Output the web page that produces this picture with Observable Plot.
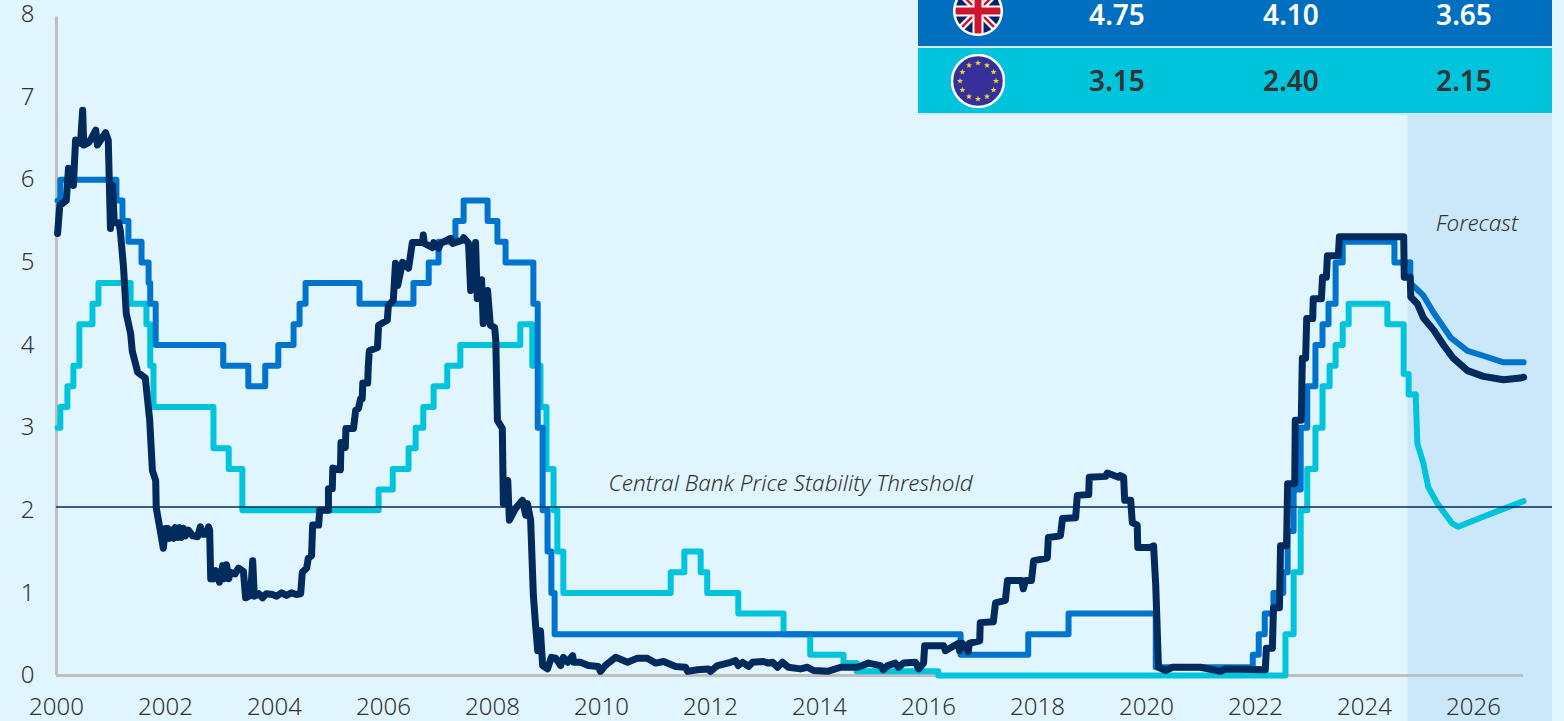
<!DOCTYPE html>
<html>
<head>
<meta charset="utf-8">
<script src="https://cdn.jsdelivr.net/npm/d3@7"></script>
<script src="https://cdn.jsdelivr.net/npm/@observablehq/plot@0.6"></script>
<style>
html,body{margin:0;padding:0;background:#E1F5FE;overflow:hidden}
#wrap{position:relative;width:1564px;height:721px;overflow:hidden;font-family:"Noto Sans",sans-serif}
.row{position:absolute;left:918px;width:634px}
.cell{position:absolute;top:0;width:120px;margin-left:-60px;text-align:center;font-size:28px;font-weight:600;line-height:1}
.flag{position:absolute}
</style>
</head>
<body>
<div id="wrap"></div>
<script>
// Step histories: [year the rate took effect, rate %]
const ukSteps = [[2000.02,5.75],[2000.07,6],[2001.10,5.75],[2001.21,5.5],[2001.32,5.25],[2001.56,5],[2001.69,4.75],[2001.72,4.5],[2001.82,4],[2003.06,3.75],[2003.52,3.5],[2003.83,3.75],[2004.07,4],[2004.35,4.25],[2004.46,4.5],[2004.57,4.75],[2005.56,4.5],[2006.55,4.75],[2006.83,5],[2007.01,5.25],[2007.32,5.5],[2007.47,5.75],[2007.91,5.5],[2008.09,5.25],[2008.24,5],[2008.75,4.5],[2008.83,3],[2008.92,2],[2009.01,1.5],[2009.08,1],[2009.14,0.5],[2016.59,0.25],[2017.83,0.5],[2018.57,0.75],[2020.17,0.1],[2021.95,0.25],[2022.06,0.5],[2022.17,0.75],[2022.33,1],[2022.51,1.25],[2022.59,1.75],[2022.70,2.25],[2022.83,3],[2022.95,3.5],[2023.10,4],[2023.23,4.25],[2023.34,4.5],[2023.47,5],[2023.60,5.25],[2024.55,5],[2024.84,5]];
const ukForecast = [[2024.84,5],[2024.84,4.75],[2025.08,4.6],[2025.27,4.39],[2025.58,4.09],[2025.89,3.93],[2026.18,3.87],[2026.55,3.79],[2026.92,3.79]];
const euSteps = [[2000.02,3],[2000.07,3.25],[2000.20,3.5],[2000.31,3.75],[2000.42,4.25],[2000.66,4.5],[2000.77,4.75],[2001.36,4.5],[2001.65,4.25],[2001.72,3.75],[2001.78,3.25],[2002.88,2.75],[2003.16,2.5],[2003.41,2],[2005.91,2.25],[2006.17,2.5],[2006.46,2.75],[2006.59,3],[2006.73,3.25],[2006.92,3.5],[2007.17,3.75],[2007.41,4],[2008.51,4.25],[2008.73,3.75],[2008.88,3.25],[2008.99,2.5],[2009.12,2],[2009.19,1.5],[2009.30,1],[2011.27,1.25],[2011.52,1.5],[2011.82,1.25],[2011.94,1],[2012.51,0.75],[2013.34,0.5],[2013.83,0.25],[2014.44,0.15],[2014.68,0.05],[2016.18,0],[2022.55,0.5],[2022.70,1.25],[2022.83,2],[2022.95,2.5],[2023.10,3],[2023.23,3.5],[2023.36,3.75],[2023.47,4],[2023.60,4.25],[2023.71,4.5],[2024.42,4.25],[2024.72,3.65],[2024.81,3.4],[2024.94,3.4]];
const euForecast = [[2024.94,3.4],[2024.97,2.81],[2025.08,2.57],[2025.17,2.28],[2025.34,2.08],[2025.61,1.84],[2025.72,1.8],[2026.13,1.91],[2026.92,2.11]];
// US rate, history and forecast: [year, rate %]
const usRate = [[2000.02,5.35],[2000.06,5.69],[2000.18,5.75],[2000.22,6.14],[2000.26,6.02],[2000.31,5.93],[2000.35,6.48],[2000.44,6.44],[2000.48,6.84],[2000.50,6.42],[2000.59,6.45],[2000.64,6.5],[2000.72,6.6],[2000.75,6.42],[2000.90,6.57],[2000.95,6.48],[2000.99,5.41],[2001.03,5.93],[2001.06,5.48],[2001.14,5.48],[2001.17,5.39],[2001.23,4.94],[2001.28,4.38],[2001.36,4.14],[2001.39,3.93],[2001.49,3.67],[2001.63,3.6],[2001.71,3.09],[2001.76,2.48],[2001.82,2.36],[2001.83,2.03],[2001.87,1.88],[2001.96,1.54],[2002.00,1.78],
[2002.04,1.78],[2002.07,1.66],[2002.11,1.76],[2002.15,1.66],[2002.18,1.79],[2002.22,1.67],[2002.26,1.79],[2002.29,1.67],[2002.33,1.78],[2002.37,1.69],[2002.42,1.76],[2002.50,1.69],[2002.59,1.68],[2002.64,1.8],[2002.68,1.71],[2002.75,1.71],[2002.79,1.8],[2002.81,1.76],[2002.83,1.17],[2002.84,1.27],[2002.88,1.17],[2002.92,1.27],[2002.99,1.13],[2003.05,1.33],[2003.08,1.17],[2003.12,1.34],[2003.16,1.17],[2003.19,1.25],[2003.28,1.23],[2003.34,1.3],[2003.43,1.26],[2003.47,0.94],[2003.56,0.97],[2003.60,1.39],[2003.63,0.96],[2003.71,0.99],[2003.78,0.94],[2003.85,0.99],[2003.96,0.98],[2004.04,0.96],[2004.13,1],[2004.22,0.97],[2004.31,1],[2004.40,0.98],[2004.48,0.99],[2004.51,1.25],[2004.59,1.3],[2004.62,1.42],[2004.68,1.45],
[2004.70,1.82],[2004.81,1.82],[2004.83,2],[2004.99,2],[2004.99,2.26],[2005.06,2.26],[2005.07,2.51],[2005.21,2.49],[2005.22,2.82],[2005.30,2.76],[2005.31,2.99],[2005.45,2.99],[2005.49,3.21],[2005.54,3.23],[2005.58,3.35],[2005.61,3.35],[2005.62,3.54],[2005.71,3.54],[2005.72,3.73],[2005.74,3.93],[2005.89,3.97],[2005.91,4.24],[2006.07,4.3],[2006.09,4.48],[2006.18,4.54],[2006.22,4.99],[2006.26,4.72],[2006.35,5],[2006.46,4.93],[2006.53,5.24],[2006.72,5.24],[2006.73,5.33],[2006.75,5.23],[2006.90,5.18],[2006.92,5.24],[2007.01,5.17],[2007.05,5.23],[2007.23,5.29],[2007.27,5.23],[2007.45,5.27],[2007.47,5.3],[2007.56,5.23],[2007.60,4.66],[2007.69,5.24],[2007.72,4.56],[2007.80,4.79],[2007.83,4.26],[2007.91,4.66],[2007.96,4.24],[2008.04,4.21],[2008.06,4.06],
[2008.09,3.09],[2008.18,2.99],[2008.20,2.08],[2008.28,2.36],[2008.31,1.88],[2008.42,2.02],[2008.55,2.12],[2008.61,1.94],[2008.64,2.08],[2008.70,1.88],[2008.75,0.97],[2008.79,0.61],[2008.83,0.3],[2008.88,0.54],[2008.92,0.12],[2009.01,0.08],[2009.08,0.22],[2009.16,0.21],[2009.25,0.12],[2009.30,0.22],[2009.38,0.16],[2009.47,0.24],[2009.49,0.16],[2009.61,0.16],[2009.76,0.12],[2009.94,0.11],[2009.98,0.05],[2010.07,0.12],[2010.26,0.22],[2010.48,0.16],[2010.66,0.21],[2010.84,0.21],[2010.99,0.15],[2011.14,0.17],[2011.36,0.11],[2011.54,0.1],[2011.58,0.05],[2011.76,0.07],[2011.96,0.08],[2012.00,0.05],[2012.13,0.12],[2012.37,0.16],[2012.46,0.18],[2012.51,0.12],[2012.59,0.16],[2012.70,0.11],[2012.77,0.16],[2012.97,0.17],[2013.06,0.15],[2013.14,0.16],[2013.23,0.1],[2013.32,0.16],[2013.43,0.1],[2013.65,0.08],[2013.78,0.1],[2013.89,0.06],[2014.15,0.05],[2014.39,0.1],[2014.70,0.1],[2014.90,0.15],[2015.12,0.12],[2015.17,0.07],[2015.25,0.12],[2015.39,0.15],[2015.45,0.1],[2015.54,0.15],[2015.76,0.16],[2015.82,0.08],[2015.91,0.15],[2015.93,0.36],
[2016.28,0.36],[2016.31,0.3],[2016.55,0.39],[2016.57,0.3],[2016.62,0.39],[2016.73,0.29],[2016.75,0.39],[2016.94,0.42],[2016.95,0.64],[2017.19,0.65],[2017.23,0.88],[2017.41,0.91],[2017.45,1.15],[2017.71,1.15],[2017.74,1.05],[2017.78,1.15],[2017.89,1.15],[2017.93,1.39],[2018.18,1.42],[2018.20,1.67],[2018.42,1.69],[2018.46,1.9],[2018.70,1.91],[2018.73,2.18],[2018.94,2.19],[2018.95,2.4],[2019.25,2.41],[2019.28,2.45],[2019.49,2.4],[2019.52,2.42],[2019.58,2.4],[2019.60,2.12],[2019.71,2.12],[2019.74,1.85],[2019.83,1.82],[2019.84,1.55],[2020.07,1.55],[2020.13,1.57],[2020.17,1.09],[2020.22,0.1],[2020.35,0.06],[2020.48,0.1],[2020.99,0.1],[2021.36,0.05],[2021.45,0.08],[2022.18,0.07],[2022.20,0.33],[2022.31,0.33],[2022.33,0.82],[2022.44,0.82],[2022.46,1.57],[2022.57,1.57],[2022.59,2.32],[2022.72,2.32],[2022.73,3.09],[2022.84,3.09],[2022.86,3.84],[2022.92,3.84],[2022.94,4.32],[2023.05,4.32],[2023.06,4.56],[2023.21,4.56],[2023.23,4.82],[2023.30,4.82],[2023.32,5.08],[2023.52,5.08],[2023.54,5.31],[2024.72,5.31],[2024.73,4.82],[2024.84,4.82],[2024.85,4.58],[2024.97,4.5],[2025.08,4.33],[2025.27,4.18],[2025.45,4],[2025.63,3.84],[2025.89,3.69],[2026.18,3.62],[2026.55,3.58],[2026.86,3.6],[2026.92,3.61]];
// Table rows
const ukTableValues = ["4.75","4.10","3.65"];
const euTableValues = ["3.15","2.40","2.15"];
const xTickYears = d3.range(2000, 2028, 2);
const yTickValues = d3.range(0, 9);
const thresholdLabel = "Central Bank Price Stability Threshold";
const forecastLabel = "Forecast";
const forecastStart = 2024.8;
const thresholdLevel = 2.04;

const navy="#002B5C", blue="#0073CC", teal="#00C4DC", ink="#333333", axisGrey="#BFBFBF";
const fx=d=>d[0], fy=d=>d[1];
const lineOpts={x:fx,y:fy,strokeWidth:6,strokeLinejoin:"round",strokeLinecap:"round"};

const chart = Plot.plot({
  width:1564, height:721,
  marginLeft:56, marginRight:12, marginTop:14, marginBottom:46,
  style:{background:"transparent",fontFamily:'"Noto Sans",sans-serif',fontSize:"24px",fontWeight:300,color:ink,overflow:"visible"},
  x:{type:"linear",domain:[2000,2027.45]},
  y:{type:"linear",domain:[0,8]},
  marks:[
    Plot.rectY([0],{x1:forecastStart,x2:2027.45,y1:-0.56,y2:6.8,fill:"#CBE8FB"}),
    Plot.ruleX([2000],{y1:0,y2:7.97,stroke:axisGrey,strokeWidth:3}),
    Plot.ruleY([0],{x1:2000,x2:2026.92,stroke:axisGrey,strokeWidth:3}),
    Plot.axisX({ticks:xTickYears,tickFormat:d=>String(d),tickSize:0,tickPadding:22,anchor:"bottom",label:null,fill:ink,fontSize:24}),
    Plot.axisY({ticks:yTickValues,tickSize:0,tickPadding:22,anchor:"left",label:null,fill:ink,fontSize:24}),
    Plot.line(euSteps,{...lineOpts,stroke:teal,curve:"step-after"}),
    Plot.line(euForecast,{...lineOpts,stroke:teal}),
    Plot.line(ukSteps,{...lineOpts,stroke:blue,curve:"step-after"}),
    Plot.line(ukForecast,{...lineOpts,stroke:blue}),
    Plot.line(usRate,{...lineOpts,stroke:navy,strokeWidth:7}),
    Plot.ruleY([thresholdLevel],{x1:2000,x2:2027.45,stroke:navy,strokeWidth:1.4}),
    Plot.text([thresholdLabel],{x:2016.81,y:2.32,text:d=>d,textAnchor:"end",fill:ink,fontStyle:"italic",fontSize:22.5}),
    Plot.text([forecastLabel],{x:2026.82,y:5.47,text:d=>d,textAnchor:"end",fill:ink,fontStyle:"italic",fontSize:22.5})
  ]
});
const wrap=document.getElementById("wrap");
wrap.appendChild(chart);

// Table overlay
const columns=[199,373,546];
function addRow(top,height,bg,color,vals,offset){
  const r=document.createElement("div");
  r.className="row";
  r.style.cssText=`top:${top}px;height:${height}px;background:${bg};color:${color}`;
  vals.forEach((v,i)=>{
    const c=document.createElement("div");
    c.className="cell";
    c.textContent=v;
    c.style.left=columns[i]+"px";
    c.style.top=offset+"px";
    r.appendChild(c);
  });
  wrap.appendChild(r);
  return r;
}
const sep=document.createElement("div");
sep.style.cssText="position:absolute;left:918px;top:46px;width:634px;height:69px;background:#D5E8EE";
wrap.appendChild(sep);
addRow(-20,66,"#006FBF","#ffffff",ukTableValues,20);
addRow(48,65,"#00C4DC","#333333",euTableValues,18);

const star=(cx,cy,r)=>d3.range(10).map(i=>{const a=-Math.PI/2+i*Math.PI/5,q=i%2?r*0.42:r;return (cx+q*Math.cos(a)).toFixed(2)+","+(cy+q*Math.sin(a)).toFixed(2)}).join(" ");
const euStars=d3.range(12).map(i=>{const a=i*Math.PI/6;return `<polygon points="${star(27+18*Math.sin(a),27-18*Math.cos(a),3.2)}" fill="#E8D92B"/>`}).join("");
const f2=document.createElement("div");
f2.className="flag";
f2.style.cssText="left:951px;top:54px;width:54px;height:54px";
f2.innerHTML=`<svg width="54" height="54"><circle cx="27" cy="27" r="26" fill="#37309B" stroke="#fff" stroke-width="2.5"/>${euStars}</svg>`;
wrap.appendChild(f2);
const f1=document.createElement("div");
f1.className="flag";
f1.style.cssText="left:953px;top:-14px;width:50px;height:50px";
f1.innerHTML=`<svg width="50" height="50"><defs><clipPath id="uk"><circle cx="25" cy="25" r="23.5"/></clipPath></defs>
<circle cx="25" cy="25" r="23.8" fill="#fff"/>
<g clip-path="url(#uk)"><rect x="0" y="0" width="50" height="50" fill="#012169"/>
<path d="M0,0L50,50M50,0L0,50" stroke="#fff" stroke-width="7"/>
<path d="M0,0L50,50M50,0L0,50" stroke="#CF142B" stroke-width="2.5"/>
<path d="M25,0V50M0,25H50" stroke="#fff" stroke-width="11"/>
<path d="M25,0V50M0,25H50" stroke="#CF142B" stroke-width="7"/></g>
<circle cx="25" cy="25" r="23.8" fill="none" stroke="#fff" stroke-width="2.5"/></svg>`;
wrap.appendChild(f1);
</script>
</body>
</html>
